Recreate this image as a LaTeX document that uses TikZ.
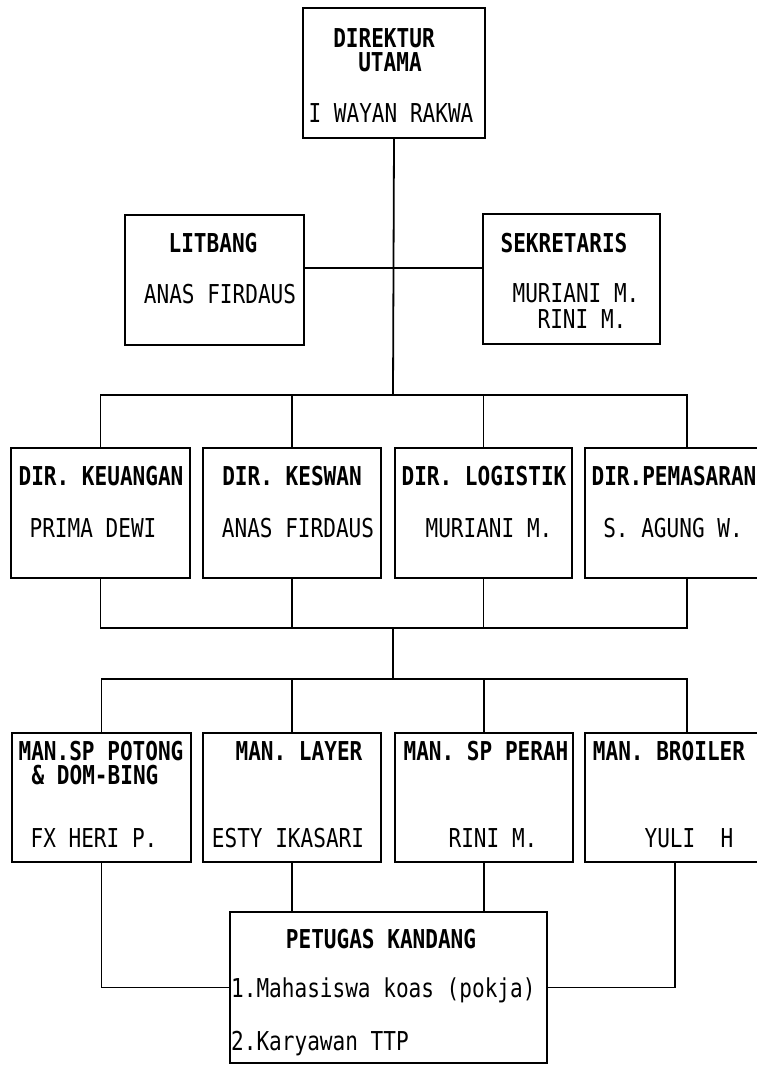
\documentclass[tikz,border=0pt]{standalone}
\usepackage{fontspec}
\newfontfamily\dotfont[FakeStretch=0.81]{DejaVu Sans Mono}
\tikzset{
  box/.style={draw,line width=2pt,inner sep=0pt,anchor=north west},
  ttl/.style={font=\dotfont\bfseries\fontsize{26}{28}\selectfont,anchor=base,inner sep=0pt,text height=19pt,text depth=0pt},
  nm/.style={font=\dotfont\fontsize{26}{28}\selectfont,anchor=base,inner sep=0pt,text height=19pt,text depth=0pt},
  ln/.style={line width=1.8pt}
}
\begin{document}
\begin{tikzpicture}[x=1pt,y=-1pt]
\useasboundingbox (0,0) rectangle (756,1066);
\node[box,minimum width=182pt,minimum height=130pt](dirut) at (302,7){};
\node[box,minimum width=179pt,minimum height=130pt](lit) at (124,214){};
\node[box,minimum width=177pt,minimum height=130pt](sek) at (482,213){};
\node[box,minimum width=179pt,minimum height=130pt](dk) at (10,447){};
\node[box,minimum width=178pt,minimum height=130pt](dkes) at (202,447){};
\node[box,minimum width=177pt,minimum height=130pt](dlog) at (394,447){};
\node[box,minimum width=204pt,minimum height=130pt](dpem) at (584,447){};
\node[box,minimum width=179pt,minimum height=129pt](m1) at (11,732){};
\node[box,minimum width=178pt,minimum height=129pt](m2) at (202,732){};
\node[box,minimum width=178pt,minimum height=129pt](m3) at (394,732){};
\node[box,minimum width=204pt,minimum height=129pt](m4) at (584,732){};
\node[box,minimum width=317pt,minimum height=151pt](pk) at (229,911){};

\coordinate(b1) at (393,395);
\coordinate(b2) at (393,628);
\coordinate(b3) at (393,679);
\draw[ln](dirut.south)--(b1);
\draw[ln]([yshift=12pt]lit.east)--([yshift=11pt]sek.west);
\draw[ln](dk.north)|-(b1)-|(dpem.north);
\draw[ln](dkes.north)--(dkes.north|-b1);
\draw[ln](dlog.north)--(dlog.north|-b1);
\draw[ln](dk.south)|-(b2)-|(dpem.south);
\draw[ln](dkes.south)--(dkes.south|-b2);
\draw[ln](dlog.south)--(dlog.south|-b2);
\draw[ln](b2)--(b3);
\draw[ln](m1.north)|-(b3)-|(m4.north);
\draw[ln](m2.north)--(m2.north|-b3);
\draw[ln](m3.north)--(m3.north|-b3);
\draw[ln](m1.south)|-(pk.west);
\draw[ln]([xshift=-12pt]m4.south)|-(pk.east);
\draw[ln](m2.south)--(m2.south|-pk.north);
\draw[ln](m3.south)--(m3.south|-pk.north);

\node[ttl](dirut-a) at (384,47){DIREKTUR};
\node[ttl](dirut-b) at (390,71){UTAMA};
\node[nm](dirut-c) at (391,122){I WAYAN RAKWA};
\node[ttl](lit-a) at (213,252){LITBANG};
\node[nm](lit-b) at (220,303){ANAS FIRDAUS};
\node[ttl](sek-a) at (564,252){SEKRETARIS};
\node[nm](sek-b) at (576,302){MURIANI M.};
\node[nm](sek-c) at (582,328){RINI M.};
\node[ttl](dk-a) at (101,485){DIR. KEUANGAN};
\node[nm](dk-b) at (93,537){PRIMA DEWI};
\node[ttl](dkes-a) at (292,485){DIR. KESWAN};
\node[nm](dkes-b) at (298,537){ANAS FIRDAUS};
\node[ttl](dlog-a) at (484,485){DIR. LOGISTIK};
\node[nm](dlog-b) at (489,537){MURIANI M.};
\node[ttl](dpem-a) at (674,485){DIR.PEMASARAN};
\node[nm](dpem-b) at (673,537){S. AGUNG W.};
\node[ttl](m1-a) at (101,760){MAN.SP POTONG};
\node[ttl](m1-b) at (95,784){\& DOM-BING};
\node[nm](m1-c) at (94,847){FX HERI P.};
\node[ttl](m2-a) at (299,760){MAN. LAYER};
\node[nm](m2-b) at (288,847){ESTY IKASARI};
\node[ttl](m3-a) at (486,760){MAN. SP PERAH};
\node[nm](m3-b) at (493,847){RINI M.};
\node[ttl](m4-a) at (669,760){MAN. BROILER};
\node[nm](m4-b) at (689,847){YULI\ \ H};
\node[ttl](pk-a) at (381,948){PETUGAS KANDANG};
\node[nm,anchor=base west](pk-b) at (231,997){1.Mahasiswa koas (pokja)};
\node[nm,anchor=base west](pk-c) at (231,1050){2.Karyawan TTP};
\end{tikzpicture}
\end{document}
